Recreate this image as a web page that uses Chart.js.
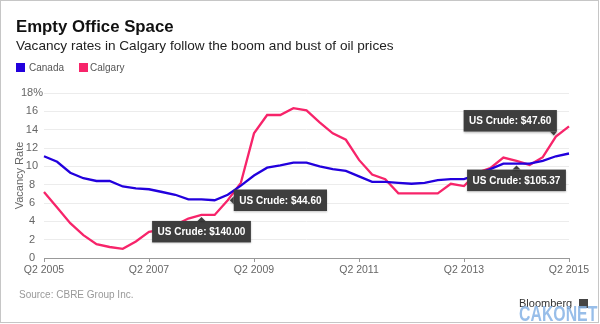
<!DOCTYPE html>
<html>
<head>
<meta charset="utf-8">
<script src="https://cdn.jsdelivr.net/npm/chart.js@4.4.0/dist/chart.umd.min.js"></script>
<style>
  html, body { margin: 0; padding: 0; background: #fff; }
  body { position: relative; width: 600px; height: 324px; overflow: hidden; font-family: "Liberation Sans", Arial, sans-serif; }
  #frame { position: absolute; left: 0; top: 0; width: 597px; height: 321px; border: 1px solid #c6c6c6; }
  #chart { position: absolute; left: 0; top: 0; }
  .txt { position: absolute; white-space: nowrap; line-height: 1; }
  #title { left: 16px; top: 18.5px; font-size: 16.8px; font-weight: bold; color: #111; }
  #subtitle { left: 16px; top: 38.5px; font-size: 13.6px; color: #222; }
  .key { position: absolute; top: 63px; width: 9px; height: 8.5px; }
  .keytxt { top: 63px; font-size: 10px; color: #555; }
  #source { left: 19px; top: 290px; font-size: 10px; color: #999; }
  #bbg { left: 519px; top: 298px; font-size: 11px; color: #333; }
  #bbgbox { position: absolute; left: 579px; top: 299px; width: 9px; height: 9px; background: #444; }
  #cako { left: 519px; top: 303px; font-size: 22px; font-weight: bold; color: #86b3e6; opacity: 0.85;
          transform: scaleX(0.72); transform-origin: left top; }
</style>
</head>
<body>
<div id="frame"></div>
<canvas id="chart" width="600" height="324"></canvas>
<div class="txt" id="title">Empty Office Space</div>
<div class="txt" id="subtitle">Vacancy rates in Calgary follow the boom and bust of oil prices</div>
<div class="key" style="left:16px;background:#2200dd"></div>
<div class="txt keytxt" style="left:29px">Canada</div>
<div class="key" style="left:79px;background:#f7246a"></div>
<div class="txt keytxt" style="left:90px">Calgary</div>
<div class="txt" id="source">Source: CBRE Group Inc.</div>
<div class="txt" id="bbg">Bloomberg</div>
<div id="bbgbox"></div>
<div class="txt" id="cako">CAKONET</div>
<script>
// Квартали від Q2 2005 до Q2 2015
const quarters = [];
for (let y = 2005; y <= 2015; y++) {
  for (let q = 1; q <= 4; q++) {
    if ((y === 2005 && q < 2) || (y === 2015 && q > 2)) continue;
    quarters.push('Q' + q + ' ' + y);
  }
}

// Рівень вакантних площ, %
const canada = [11.1, 10.5, 9.3, 8.7, 8.4, 8.4, 7.8, 7.6, 7.5, 7.2, 6.9, 6.4, 6.4, 6.3, 6.9, 7.9, 9.0, 9.85, 10.1, 10.4,
  10.4, 10.0, 9.7, 9.5, 8.9, 8.3, 8.3, 8.2, 8.1, 8.2, 8.5, 8.6, 8.6, 9.1, 9.7, 10.3, 10.3, 10.3, 10.6, 11.1, 11.4];
const calgary = [7.2, 5.5, 3.8, 2.5, 1.5, 1.2, 1.0, 1.8, 2.85, 3.1, 3.6, 4.3, 4.7, 4.7, 6.3, 8.2, 13.6, 15.6, 15.6, 16.35,
  16.1, 14.8, 13.6, 12.9, 10.7, 9.1, 8.6, 7.05, 7.05, 7.05, 7.05, 8.1, 7.85, 9.3, 9.8, 10.95, 10.6, 10.15, 11.0, 13.25, 14.35];

const yTicks = [0, 2, 4, 6, 8, 10, 12, 14, 16, 18];

// Підписи ціни на нафту
const crudeNotes = [
  { series: 1, index: 12, text: 'US Crude: $140.00', place: 'below' },
  { series: 1, index: 14, text: 'US Crude: $44.60', place: 'right' },
  { series: 0, index: 36, text: 'US Crude: $105.37', place: 'below' },
  { series: 1, index: 39, text: 'US Crude: $47.60', place: 'aboveLeft' }
];

const crudeNotesPlugin = {
  id: 'crudeNotes',
  afterDatasetsDraw(chart) {
    const ctx = chart.ctx;
    const xs = chart.scales.x;
    const ys = chart.scales.y;
    ctx.save();
    ctx.font = 'bold 10px "Liberation Sans", Arial, sans-serif';
    crudeNotes.forEach(note => {
      const value = chart.data.datasets[note.series].data[note.index];
      const px = xs.getPixelForValue(note.index);
      const py = ys.getPixelForValue(value);
      const w = ctx.measureText(note.text).width + 11;
      const h = 21.5;
      let bx, by;
      const tri = [];
      if (note.place === 'below') {
        bx = px - w / 2; by = py + 6;
        tri.push([px - 4, by], [px, by - 4], [px + 4, by]);
      } else if (note.place === 'right') {
        bx = px + 6; by = py - h / 2;
        tri.push([bx, py - 4], [bx - 4, py], [bx, py + 4]);
      } else {
        bx = px + 1 - w; by = py - 5 - h;
        tri.push([px - 6, by + h], [px - 2, by + h + 4], [px + 1, by + h]);
      }
      ctx.shadowColor = 'rgba(0,0,0,0.25)';
      ctx.shadowBlur = 2;
      ctx.shadowOffsetY = 1;
      ctx.fillStyle = '#3e3e3e';
      ctx.fillRect(bx, by, w, h);
      ctx.beginPath();
      ctx.moveTo(tri[0][0], tri[0][1]);
      ctx.lineTo(tri[1][0], tri[1][1]);
      ctx.lineTo(tri[2][0], tri[2][1]);
      ctx.closePath();
      ctx.fill();
      ctx.shadowColor = 'transparent';
      ctx.fillStyle = '#fff';
      ctx.textBaseline = 'middle';
      ctx.textAlign = 'left';
      ctx.fillText(note.text, bx + 5.5, by + h / 2 + 0.5);
    });
    ctx.restore();
  }
};

const tickFont = { family: '"Liberation Sans", Arial, sans-serif', size: 10.5 };

const ctx = document.getElementById('chart').getContext('2d');
const vacancyChart = new Chart(ctx, {
  type: 'line',
  data: {
    labels: quarters,
    datasets: [
      { label: 'Canada', data: canada, borderColor: '#2200dd', borderWidth: 2.3, pointRadius: 0, tension: 0 },
      { label: 'Calgary', data: calgary, borderColor: '#f7246a', borderWidth: 2.3, pointRadius: 0, tension: 0 }
    ]
  },
  options: {
    responsive: false,
    animation: false,
    layout: { padding: { top: 93, right: 31, bottom: 36, left: 0 } },
    plugins: { legend: { display: false }, tooltip: { enabled: false } },
    scales: {
      x: {
        offset: false,
        ticks: {
          autoSkip: false,
          maxRotation: 0,
          padding: 2,
          color: '#666',
          font: tickFont,
          callback: (v, i) => (i % 8 === 0 ? quarters[i] : '')
        },
        grid: {
          drawOnChartArea: false,
          tickLength: 4,
          color: c => (c.index % 8 === 0 ? '#999' : 'rgba(0,0,0,0)')
        },
        border: { color: '#999' },
        afterFit: s => { s.height = 30; }
      },
      y: {
        min: 0,
        max: 18,
        afterBuildTicks: s => { s.ticks = yTicks.map(v => ({ value: v })); },
        ticks: {
          crossAlign: 'center',
          padding: 1,
          color: '#666',
          font: { family: '"Liberation Sans", Arial, sans-serif', size: 11 },
          callback: v => (v === 18 ? '18%' : v)
        },
        grid: { color: '#ececec', drawTicks: false },
        border: { display: false },
        title: {
          display: true,
          text: 'Vacancy Rate',
          color: '#666',
          font: { family: '"Liberation Sans", Arial, sans-serif', size: 11 },
          padding: { top: 13, bottom: 0 }
        },
        afterFit: s => { s.width = 44; }
      }
    }
  },
  plugins: [crudeNotesPlugin]
});
</script>
</body>
</html>
